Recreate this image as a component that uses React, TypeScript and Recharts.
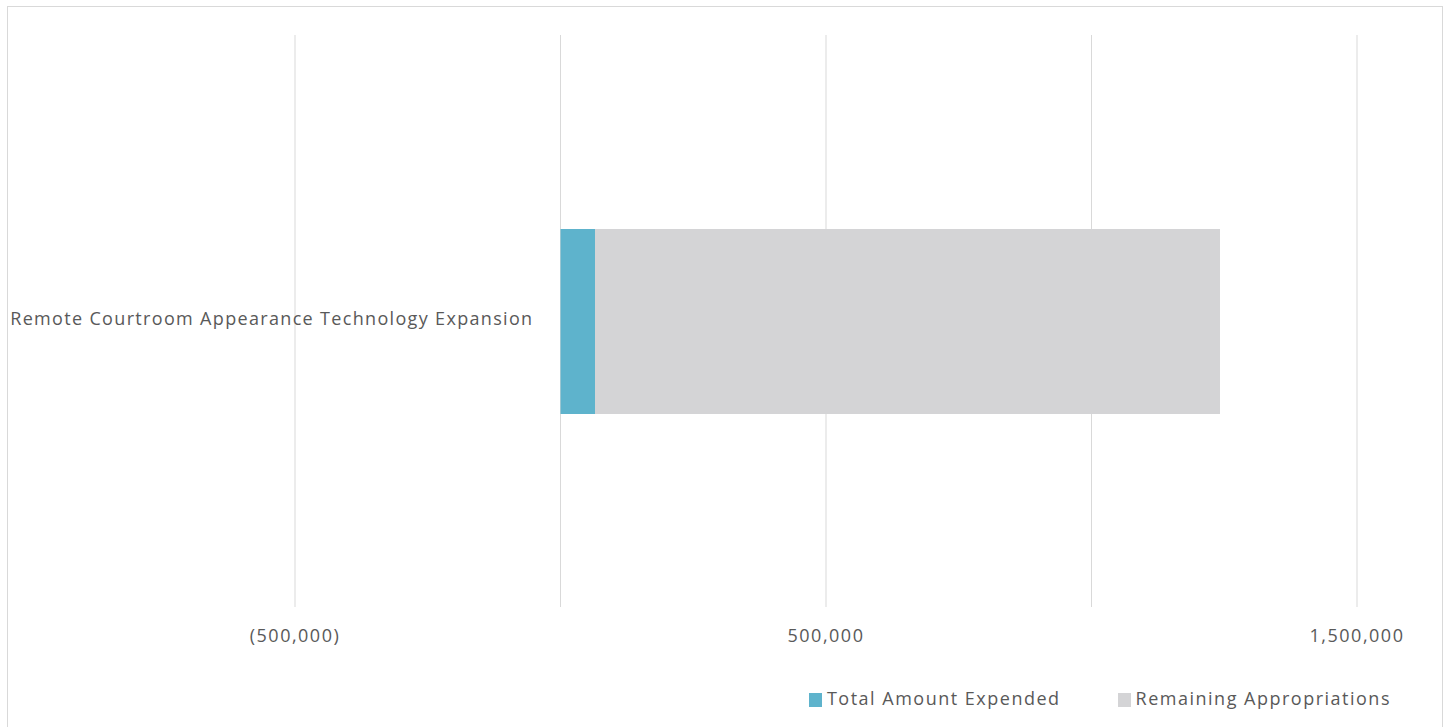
import React from 'react';
import { BarChart, Bar, XAxis, YAxis, CartesianGrid, Legend, LabelList } from 'recharts';

const categories = ['Remote Courtroom Appearance Technology Expansion'];
const totalAmountExpended = [65000];
const remainingAppropriations = [1177000];
const xTicks = [-500000, 0, 500000, 1000000, 1500000];
const labelledTicks = [-500000, 500000, 1500000];

const seriesNames = ['Total Amount Expended', 'Remaining Appropriations'];
const colors = ['#5eb3cc', '#d4d4d6'];

const data = categories.map((name, i) => ({
  name,
  expended: totalAmountExpended[i],
  remaining: remainingAppropriations[i],
}));

const textColor = '#595959';
const fontFamily = '"Open Sans", "DejaVu Sans", sans-serif';
// the original text is rendered a little wider than Open Sans
const spacing = '1.5px';

// Excel-style number format, negatives in parentheses
const formatTick = (v: number) => {
  if (!labelledTicks.includes(v)) return '';
  const s = Math.abs(v).toLocaleString('en-US');
  return v < 0 ? `(${s})` : s;
};

const LegendContent = () => (
  <div style={{ height: 60, display: 'flex', alignItems: 'center', justifyContent: 'flex-end', paddingTop: 2, boxSizing: 'border-box', fontFamily, fontSize: 18, letterSpacing: spacing, color: textColor }}>
    {seriesNames.map((n, i) => (
      <div key={n} style={{ display: 'flex', alignItems: 'center', marginLeft: i === 0 ? 0 : 57 }}>
        <span style={{ display: 'inline-block', width: 13, height: 14, background: colors[i], marginRight: 5, marginTop: 4 }} />
        <span>{n}</span>
      </div>
    ))}
  </div>
);

export default function App() {
  return (
    <div style={{ position: 'absolute', left: 7, top: 6, width: 1434, height: 740, border: '1px solid #d9d9d9', background: '#fff' }}>
      <BarChart
        width={1434}
        height={720}
        data={data}
        layout="vertical"
        margin={{ top: 28, right: 85, left: 0, bottom: 0 }}
      >
        <CartesianGrid horizontal={false} stroke="#d9d9d9" />
        <XAxis
          type="number"
          domain={[-500000, 1500000]}
          ticks={xTicks}
          tickFormatter={formatTick}
          axisLine={false}
          tickLine={false}
          height={60}
          tickMargin={16}
          tick={{ fill: textColor, fontSize: 18, fontFamily, letterSpacing: spacing }}
          interval={0}
        />
        <YAxis type="category" dataKey="name" width={287} axisLine={false} tickLine={false} tick={false} />
        <Legend verticalAlign="bottom" align="right" content={<LegendContent />} wrapperStyle={{ right: 51, left: 'auto', width: 'auto' }} />
        <Bar dataKey="expended" name={seriesNames[0]} stackId="a" fill={colors[0]} barSize={185} isAnimationActive={false}>
          <LabelList dataKey="name" position="left" offset={27} dy={-3} fill={textColor} style={{ fontSize: 18, fontFamily, letterSpacing: '1.33px' }} />
        </Bar>
        <Bar dataKey="remaining" name={seriesNames[1]} stackId="a" fill={colors[1]} barSize={185} isAnimationActive={false} />
      </BarChart>
    </div>
  );
}
